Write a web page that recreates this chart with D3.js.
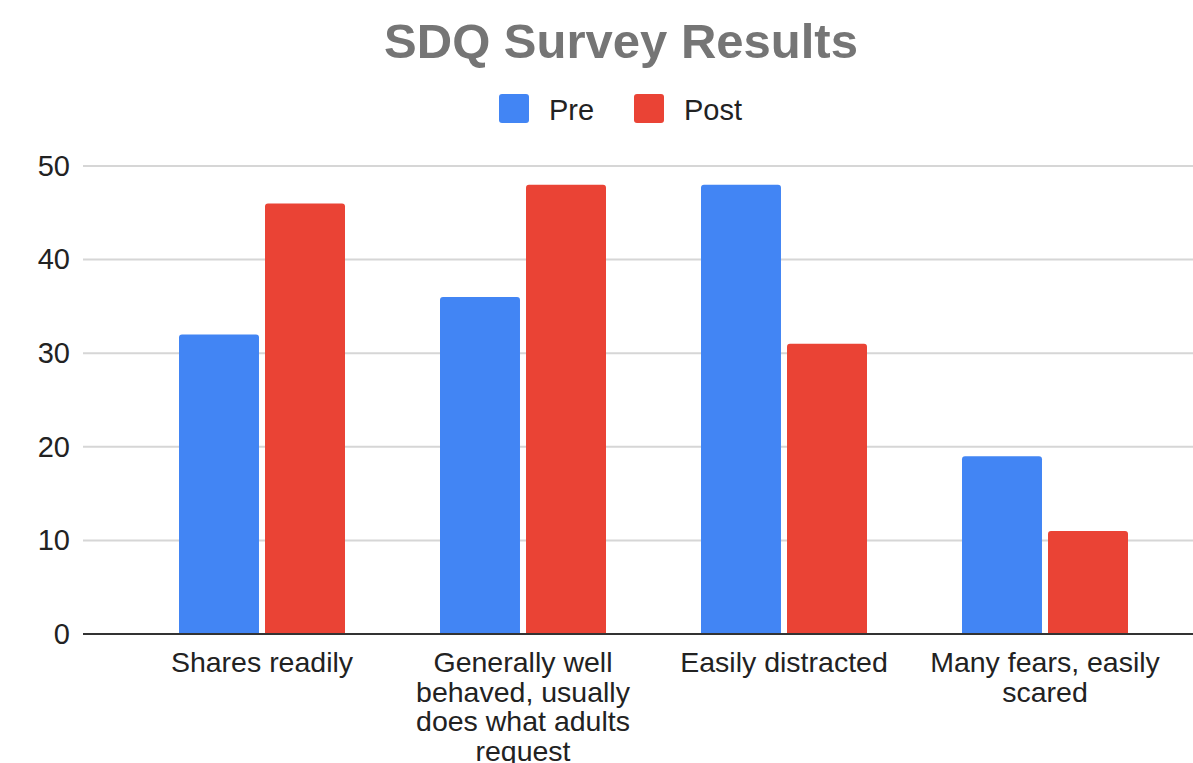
<!DOCTYPE html>
<html>
<head>
<meta charset="utf-8">
<script src="https://cdn.jsdelivr.net/npm/d3@7"></script>
<style>
  html, body { margin: 0; padding: 0; background: #fff; }
  svg { display: block; font-family: "Liberation Sans", Arial, sans-serif; }
</style>
</head>
<body>
<svg id="chart" width="1193" height="763"></svg>
<script>
// Survey categories and scores
const categories = [
  "Shares readily",
  "Generally well behaved, usually does what adults request",
  "Easily distracted",
  "Many fears, easily scared"
];
const seriesNames = ["Pre", "Post"];
const preValues = [32, 36, 48, 19];
const postValues = [46, 48, 31, 11];
const yTicks = [0, 10, 20, 30, 40, 50];
const seriesColors = ["#4285f4", "#ea4335"];

const W = 1193, H = 763;
const svg = d3.select("#chart");

const rows = categories.map((c, i) => ({ category: c, Pre: preValues[i], Post: postValues[i] }));

const y = d3.scaleLinear().domain([0, 50]).range([634, 166]);
const x0 = d3.scaleBand().domain(categories).range([131.5, 1175.5])
  .paddingInner(0.364).paddingOuter(0.182);
const x1 = d3.scaleBand().domain(seriesNames).range([0, x0.bandwidth()]).paddingInner(0.07);
const color = d3.scaleOrdinal().domain(seriesNames).range(seriesColors);

// Gridlines
svg.append("g").selectAll("line").data(yTicks.filter(t => t > 0)).join("line")
  .attr("x1", 83).attr("x2", W)
  .attr("y1", d => y(d)).attr("y2", d => y(d))
  .attr("stroke", "#d6d6d6").attr("stroke-width", 2);

// Y axis labels
const yAxis = d3.axisLeft(y).tickValues(yTicks).tickSize(0).tickPadding(0);
const gy = svg.append("g").attr("transform", "translate(70,0)").call(yAxis);
gy.select(".domain").remove();
gy.selectAll("text")
  .attr("font-size", 29).attr("fill", "#222")
  .attr("font-family", "Liberation Sans, Arial, sans-serif");

// Bars with rounded top corners
function topRounded(x, yTop, w, h, r) {
  r = Math.min(r, w / 2, h);
  return `M${x},${yTop + h}V${yTop + r}Q${x},${yTop} ${x + r},${yTop}` +
         `H${x + w - r}Q${x + w},${yTop} ${x + w},${yTop + r}V${yTop + h}Z`;
}
const groups = svg.append("g").selectAll("g").data(rows).join("g")
  .attr("transform", d => `translate(${x0(d.category)},0)`);
groups.selectAll("path").data(d => seriesNames.map(k => ({ key: k, value: d[k] }))).join("path")
  .attr("d", d => topRounded(x1(d.key), y(d.value), x1.bandwidth(), y(0) - y(d.value), 3))
  .attr("fill", d => color(d.key));

// Baseline
svg.append("line")
  .attr("x1", 83).attr("x2", W).attr("y1", y(0)).attr("y2", y(0))
  .attr("stroke", "#333").attr("stroke-width", 2);

// Category labels, wrapped
const xAxis = d3.axisBottom(x0).tickSize(0).tickPadding(0);
const gx = svg.append("g").attr("transform", `translate(0,${y(0)})`).call(xAxis);
gx.select(".domain").remove();
gx.selectAll("text")
  .attr("font-size", 28.5).attr("fill", "#222")
  .attr("font-family", "Liberation Sans, Arial, sans-serif")
  .attr("y", 0).attr("dy", null)
  .each(function(d) {
    const t = d3.select(this);
    const words = d.split(/\s+/);
    t.text(null);
    const maxW = 250, lineH = 29.5;
    let line = [], lines = [];
    let tspan = t.append("tspan").attr("x", 0);
    for (const w of words) {
      line.push(w);
      tspan.text(line.join(" "));
      if (tspan.node().getComputedTextLength() > maxW && line.length > 1) {
        line.pop();
        tspan.text(line.join(" "));
        lines.push(tspan);
        line = [w];
        tspan = t.append("tspan").attr("x", 0).text(w);
      }
    }
    t.selectAll("tspan").attr("y", (_, i) => 38 + i * lineH);
  });

// Title
svg.append("text")
  .attr("x", 621).attr("y", 57.5).attr("text-anchor", "middle")
  .attr("font-size", 49).attr("font-weight", "bold").attr("fill", "#757575")
  .text("SDQ Survey Results");

// Legend
const legendItems = [{ key: "Pre", x: 499, tx: 549 }, { key: "Post", x: 634, tx: 684 }];
const lg = svg.append("g");
lg.selectAll("rect").data(legendItems).join("rect")
  .attr("x", d => d.x).attr("y", 94).attr("width", 30).attr("height", 29).attr("rx", 3)
  .attr("fill", d => color(d.key));
lg.selectAll("text").data(legendItems).join("text")
  .attr("x", d => d.tx).attr("y", 119.5)
  .attr("font-size", 29).attr("fill", "#222")
  .text(d => d.key);
</script>
</body>
</html>
